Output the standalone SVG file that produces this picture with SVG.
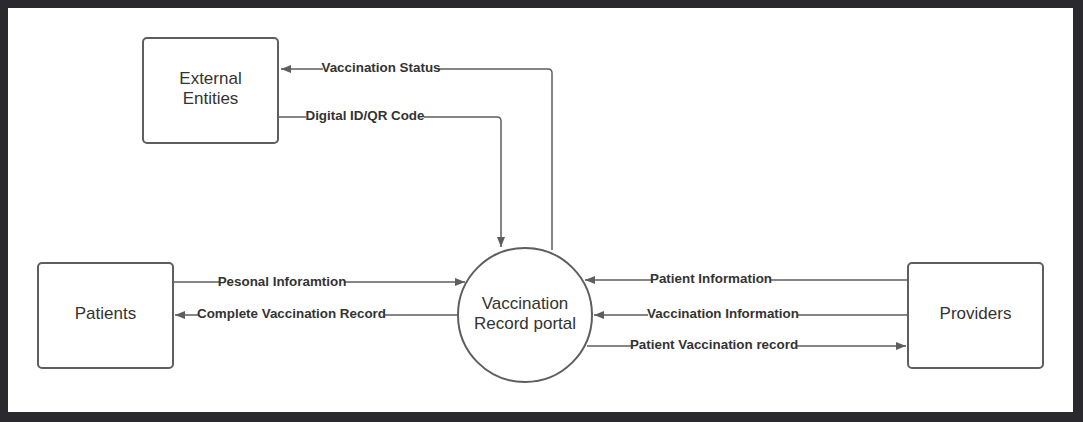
<svg xmlns="http://www.w3.org/2000/svg" width="1083" height="422" viewBox="0 0 1083 422">
<style>
.node{fill:#fff;stroke:#5e5e5e;stroke-width:2}
.nt{font-family:"Liberation Sans",Arial,sans-serif;font-size:17px;fill:#333;text-anchor:middle}
.ln{fill:none;stroke:#5e5e5e;stroke-width:1.5}
.lb{font-family:"Liberation Sans",Arial,sans-serif;font-size:13.4px;font-weight:bold;fill:#333;text-anchor:middle}
.bg{fill:#fff}
</style>
<defs>
<marker id="ah" viewBox="0 0 10 10" refX="10" refY="5" markerWidth="10" markerHeight="10" markerUnits="userSpaceOnUse" orient="auto"><path d="M0,1 L10,5 L0,9 z" fill="#5e5e5e"/></marker>
</defs>
<rect x="0" y="0" width="1083" height="422" fill="#2a2a2e"/>
<rect x="8" y="8" width="1065" height="404" fill="#fff"/>
<g id="connectors">
<path class="ln" d="M552,250 V73 Q552,69 548,69 H281" marker-end="url(#ah)"/>
<rect class="bg" x="323" y="60" width="116" height="16"/>
<text class="lb" x="381" y="72">Vaccination Status</text>
<path class="ln" d="M278,117 H497 Q501,117 501,121 V247" marker-end="url(#ah)"/>
<rect class="bg" x="306" y="108" width="118" height="16"/>
<text class="lb" x="365" y="120">Digital ID/QR Code</text>
<path class="ln" d="M173,282 H465" marker-end="url(#ah)"/>
<rect class="bg" x="219" y="273" width="126" height="16"/>
<text class="lb" x="282" y="286">Pesonal Inforamtion</text>
<path class="ln" d="M458,315 H175" marker-end="url(#ah)"/>
<rect class="bg" x="198" y="306" width="187" height="16"/>
<text class="lb" x="291.5" y="318">Complete Vaccination Record</text>
<path class="ln" d="M908,280 H585" marker-end="url(#ah)"/>
<rect class="bg" x="651" y="271" width="120" height="16"/>
<text class="lb" x="711" y="283">Patient Information</text>
<path class="ln" d="M908,315 H594" marker-end="url(#ah)"/>
<rect class="bg" x="648" y="306" width="150" height="16"/>
<text class="lb" x="723" y="318">Vaccination Information</text>
<path class="ln" d="M587,346 H906" marker-end="url(#ah)"/>
<rect class="bg" x="631" y="337" width="166" height="16"/>
<text class="lb" x="714" y="349">Patient Vaccination record</text>
</g>
<g id="external-entities">
<rect class="node" x="143" y="38" width="135" height="105" rx="4"/>
<text class="nt" x="210.5" y="84">External</text>
<text class="nt" x="210.5" y="104">Entities</text>
</g>
<g id="patients">
<rect class="node" x="38" y="263" width="135" height="105" rx="4"/>
<text class="nt" x="105.5" y="319">Patients</text>
</g>
<g id="providers">
<rect class="node" x="908" y="263" width="135" height="105" rx="4"/>
<text class="nt" x="975.5" y="319">Providers</text>
</g>
<g id="portal">
<circle class="node" cx="525" cy="315" r="67"/>
<text class="nt" x="525" y="309">Vaccination</text>
<text class="nt" x="525" y="329">Record portal</text>
</g>
</svg>
